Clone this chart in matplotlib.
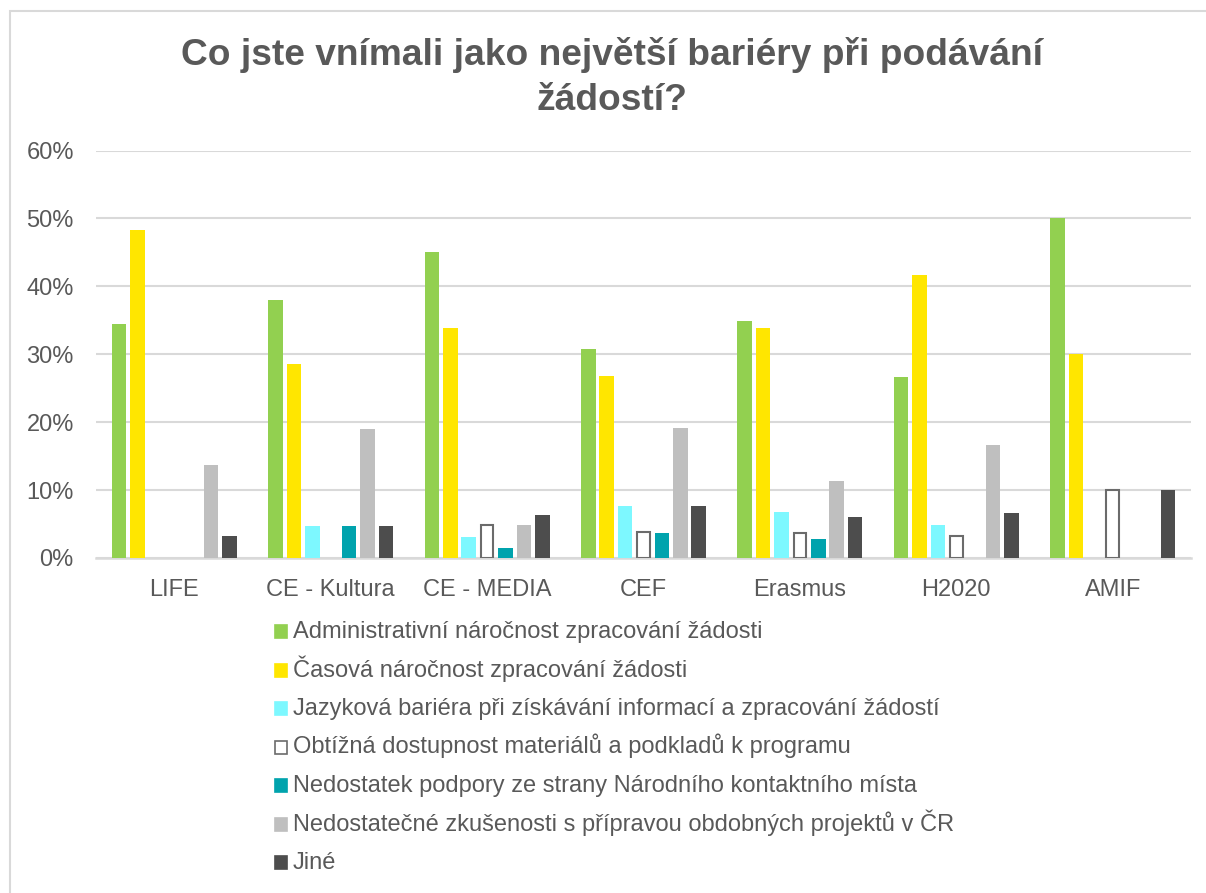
import matplotlib.pyplot as plt
import numpy as np
from matplotlib.patches import Rectangle
from matplotlib.ticker import PercentFormatter

plt.rcParams['font.family'] = ['Liberation Sans', 'DejaVu Sans']

programs = ['LIFE', 'CE - Kultura', 'CE - MEDIA', 'CEF', 'Erasmus', 'H2020', 'AMIF']

series_names = [
    'Administrativní náročnost zpracování žádosti',
    'Časová náročnost zpracování žádosti',
    'Jazyková bariéra při získávání informací a zpracování žádostí',
    'Obtížná dostupnost materiálů a podkladů k programu',
    'Nedostatek podpory ze strany Národního kontaktního místa',
    'Nedostatečné zkušenosti s přípravou obdobných projektů v ČR',
    'Jiné',
]

# values in %
admin = [34.4, 38.0, 45.1, 30.7, 34.9, 26.6, 50.0]
casova = [48.3, 28.5, 33.8, 26.8, 33.8, 41.7, 30.0]
jazykova = [0.0, 4.7, 3.1, 7.6, 6.7, 4.9, 0.0]
obtizna = [0.0, 0.0, 4.8, 3.8, 3.7, 3.3, 10.0]
nkm = [0.0, 4.7, 1.5, 3.7, 2.8, 0.0, 0.0]
zkusenosti = [13.7, 19.0, 4.8, 19.2, 11.4, 16.6, 0.0]
jine = [3.3, 4.7, 6.3, 7.6, 6.1, 6.6, 10.0]

title_lines = ['Co jste vnímali jako největší bariéry při podávání', 'žádostí?']

series = [admin, casova, jazykova, obtizna, nkm, zkusenosti, jine]
face_colors = ['#92D050', '#FFE600', '#7DF8FF', '#FFFFFF', '#00A3AD', '#BFBFBF', '#4D4D4D']
edge_colors = ['none', 'none', 'none', '#6B6B6B', 'none', 'none', 'none']

TEXT = '#595959'
GRID = '#D9D9D9'

fig = plt.figure(figsize=(12.06, 8.93), dpi=100, facecolor='white')
W, H = 1206, 893

# chart frame (left + top edges visible)
fig.patches.append(Rectangle((10 / W, -0.05), 1.2, (H - 11) / H + 0.05, transform=fig.transFigure,
                             facecolor='none', edgecolor=GRID, linewidth=1.5))

ax = fig.add_axes([96 / W, (H - 558) / H, 1095 / W, 407.5 / H])

x = np.arange(len(programs))
slot = 0.1176
width = 0.093
for i, vals in enumerate(series):
    offs = (i - 3) * slot
    if edge_colors[i] != 'none':
        lws = [1.5 if v > 0 else 0 for v in vals]
        ax.bar(x + offs, vals, width=width - 0.012, color=face_colors[i],
               edgecolor=edge_colors[i], linewidth=lws, zorder=3)
    else:
        ax.bar(x + offs, vals, width=width, color=face_colors[i], linewidth=0, zorder=3)

ax.set_xlim(-0.5, len(programs) - 0.5)
ax.set_ylim(0, 60)
ax.set_yticks(np.arange(0, 61, 10))
ax.yaxis.set_major_formatter(PercentFormatter(decimals=0))
ax.set_xticks(x)
ax.set_xticklabels(programs)
ax.tick_params(axis='both', length=0, labelsize=17, colors=TEXT)
ax.tick_params(axis='y', pad=16)
ax.tick_params(axis='x', pad=15)
ax.grid(axis='y', color=GRID, linewidth=1.5, zorder=0)
for s in ['top', 'right', 'left']:
    ax.spines[s].set_visible(False)
ax.spines['bottom'].set_color(GRID)
ax.spines['bottom'].set_linewidth(1.8)

# two-line title, baselines placed like the original
for line, base in zip(title_lines, [65, 110]):
    fig.text(612 / W, 1 - base / H, line, ha='center', va='baseline',
             fontsize=26.7, fontweight='bold', color=TEXT)

# legend rows, evenly spaced like the original
row_gap = 38.5
base0 = 638
for i, name in enumerate(series_names):
    base = base0 + i * row_gap
    ec = edge_colors[i] if edge_colors[i] != 'none' else face_colors[i]
    fig.patches.append(Rectangle((275 / W, 1 - base / H), 12 / W, 13 / H, transform=fig.transFigure,
                                 facecolor=face_colors[i], edgecolor=ec, linewidth=1.2))
    fig.text(293 / W, 1 - base / H, name, ha='left', va='baseline', fontsize=17, color=TEXT)

fig.savefig('out.png', dpi=100, facecolor='white')
